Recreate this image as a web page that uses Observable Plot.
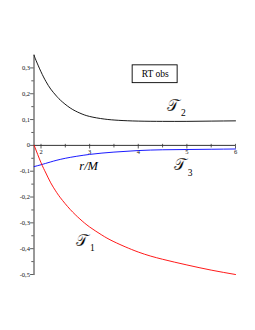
<!DOCTYPE html>
<html>
<head>
<meta charset="utf-8">
<script src="https://cdn.jsdelivr.net/npm/d3@7"></script>
<script src="https://cdn.jsdelivr.net/npm/@observablehq/plot@0.6"></script>
<style>
  html, body { margin: 0; padding: 0; background: #fff; }
  #chart svg { display: block; }
  #chart svg text { font-family: "Liberation Serif", "Times New Roman", serif; }
</style>
</head>
<body>
<div id="chart"></div>
<script>
// r/M values and the three observables
const rT1 = [1.86, 2.0, 2.1, 2.2, 2.3, 2.4, 2.6, 2.8, 3.0, 3.25, 3.5, 4.0, 4.5, 5.0, 5.5, 6.0];
const T1 = [0.0, -0.067, -0.107, -0.145, -0.176, -0.203, -0.248, -0.285, -0.316, -0.347, -0.373, -0.413, -0.441, -0.463, -0.483, -0.5];

const rT2 = [1.86, 1.9, 2.0, 2.1, 2.2, 2.3, 2.4, 2.6, 2.8, 3.0, 3.3, 3.6, 4.0, 4.5, 5.0, 5.5, 6.0];
const T2 = [0.348, 0.328, 0.285, 0.248, 0.218, 0.195, 0.175, 0.145, 0.125, 0.112, 0.102, 0.097, 0.094, 0.093, 0.093, 0.094, 0.095];

const rT3 = [1.86, 2.0, 2.2, 2.5, 3.0, 3.5, 4.0, 4.5, 5.0, 5.5, 6.0];
const T3 = [-0.082, -0.075, -0.064, -0.05, -0.035, -0.026, -0.02, -0.017, -0.016, -0.015, -0.014];

const xMajorTicks = [2, 3, 4, 5, 6];
const xMinorTicks = [2.5, 3.5, 4.5, 5.5];
const yMajorTicks = [0.3, 0.2, 0.1, 0, -0.1, -0.2, -0.3, -0.4, -0.5];
const yMinorTicks = [0.25, 0.15, 0.05, -0.05, -0.15, -0.25, -0.35, -0.45];

const curveNames = ["𝒯", "𝒯", "𝒯"];
const curveSubs = ["1", "2", "3"];
const labelR = [2.85, 4.72, 4.86];
const labelV = [-0.372, 0.152, -0.078];

const axisLabel = "r/M";
const axisLabelR = 2.98;
const axisLabelV = -0.078;

const legendText = "RT obs";
const legendBox = {x1: 3.885, x2: 4.81, y1: 0.241, y2: 0.31};

const xMin = 1.856, xMax = 6, yMin = -0.5, yMax = 0.35;

const toRows = (xs, ys) => xs.map((r, i) => ({r, v: ys[i]}));
const fmt = d => d === 0 ? "0" : d3.format(".1f")(d).replace(".", ",").replace("−", "-");
const labels = curveNames.map((n, i) => ({r: labelR[i], v: labelV[i], n, s: curveSubs[i]}));

const serif = "'Liberation Serif', 'Times New Roman', serif";

const chart = Plot.plot({
  width: 255,
  height: 330,
  marginTop: 54.5,
  marginBottom: 56,
  marginLeft: 33.5,
  marginRight: 20,
  x: {type: "linear", domain: [xMin, xMax], axis: null},
  y: {type: "linear", domain: [yMin, yMax], axis: null},
  style: {fontFamily: serif, background: "#fff"},
  marks: [
    // axes
    Plot.ruleX([xMin], {y1: yMin - 0.004, y2: yMax, stroke: "#333", strokeWidth: 1}),
    Plot.ruleY([0], {x1: xMin, x2: xMax, stroke: "#333", strokeWidth: 1}),
    // y ticks
    Plot.ruleY(yMajorTicks, {y: d => d, x1: xMin - 0.07, x2: xMin, stroke: "#333", strokeWidth: 0.8}),
    Plot.ruleY(yMinorTicks, {y: d => d, x1: xMin - 0.045, x2: xMin, stroke: "#333", strokeWidth: 0.8}),
    Plot.text(yMajorTicks, {x: xMin, y: d => d, text: fmt, textAnchor: "end", dx: -4, fontSize: 6.5, fill: "#111", fontFamily: serif}),
    // x ticks
    Plot.ruleX(xMajorTicks, {x: d => d, y1: 0.004, y2: -0.014, stroke: "#333", strokeWidth: 0.8}),
    Plot.ruleX(xMinorTicks, {x: d => d, y1: 0.004, y2: -0.01, stroke: "#333", strokeWidth: 0.8}),
    Plot.text(xMajorTicks, {x: d => d, y: 0, text: d => String(d), dy: 7, fontSize: 6.5, fill: "#111", fontFamily: serif}),
    // curves
    Plot.line(toRows(rT2, T2), {x: "r", y: "v", stroke: "#000", strokeWidth: 0.9, curve: "natural"}),
    Plot.line(toRows(rT3, T3), {x: "r", y: "v", stroke: "#0000ff", strokeWidth: 0.9, curve: "natural"}),
    Plot.line(toRows(rT1, T1), {x: "r", y: "v", stroke: "#ff0000", strokeWidth: 0.9, curve: "natural"}),
    // legend box
    Plot.rect([legendBox], {x1: "x1", x2: "x2", y1: "y1", y2: "y2", fill: "#fff", stroke: "#000", strokeWidth: 0.9}),
    Plot.text([legendText], {x: (legendBox.x1 + legendBox.x2) / 2, y: (legendBox.y1 + legendBox.y2) / 2, text: d => d, fontSize: 9.5, fill: "#000", fontFamily: serif}),
    // curve labels
    Plot.text(labels, {x: "r", y: "v", text: "n", fontSize: 15.5, fill: "#000", stroke: "#fff", strokeWidth: 0.25, paintOrder: "normal"}),
    Plot.text(labels, {x: "r", y: "v", text: "s", fontSize: 9.5, dx: 10, dy: 7, fill: "#000", fontFamily: serif}),
    Plot.text([axisLabel], {x: axisLabelR, y: axisLabelV, text: d => d, fontSize: 12.5, fontStyle: "italic", fontWeight: "normal", fill: "#000", fontFamily: serif})
  ]
});

document.getElementById("chart").append(chart);
</script>
</body>
</html>
